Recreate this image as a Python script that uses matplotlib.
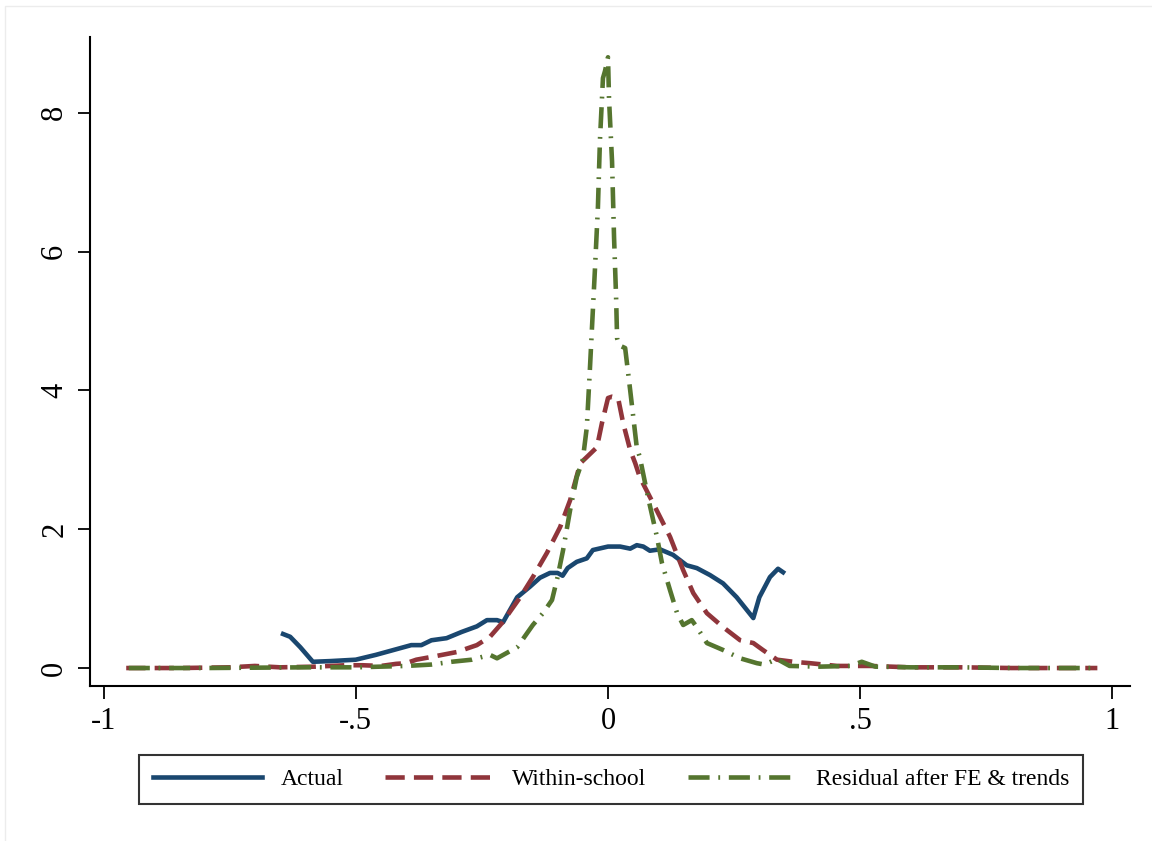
import matplotlib.pyplot as plt
from matplotlib.patches import Rectangle

plt.rcParams["font.family"] = ["Liberation Serif", "DejaVu Serif"]

# kernel density estimates, read as (x, density) pairs
actual_x = [-0.644, -0.63, -0.61, -0.585, -0.55, -0.50, -0.46, -0.43, -0.41, -0.39,
            -0.37, -0.35, -0.32, -0.29, -0.26, -0.24, -0.22, -0.208, -0.18, -0.155,
            -0.135, -0.115, -0.10, -0.09, -0.08, -0.062, -0.042, -0.03, 0.0, 0.024,
            0.044, 0.057, 0.07, 0.083, 0.103, 0.129, 0.156, 0.176, 0.202, 0.228,
            0.255, 0.288, 0.30, 0.321, 0.337, 0.347]
actual_y = [0.49, 0.45, 0.30, 0.09, 0.10, 0.12, 0.19, 0.25, 0.29, 0.33,
            0.33, 0.40, 0.43, 0.52, 0.60, 0.69, 0.69, 0.66, 1.02, 1.17,
            1.30, 1.37, 1.37, 1.33, 1.44, 1.53, 1.58, 1.70, 1.75, 1.75,
            1.72, 1.77, 1.75, 1.69, 1.71, 1.63, 1.48, 1.44, 1.34, 1.22,
            1.02, 0.72, 1.02, 1.31, 1.43, 1.38]

within_x = [-0.955, -0.85, -0.75, -0.70, -0.65, -0.58, -0.52, -0.486, -0.45, -0.42,
            -0.40, -0.38, -0.35, -0.30, -0.26, -0.234, -0.21, -0.174, -0.149, -0.121,
            -0.095, -0.075, -0.055, -0.042, -0.022, -0.012, 0.0, 0.008, 0.02, 0.03,
            0.044, 0.054, 0.063, 0.089, 0.123, 0.149, 0.169, 0.196, 0.228, 0.262,
            0.288, 0.307, 0.335, 0.367, 0.40, 0.454, 0.52, 0.60, 0.70, 0.80,
            0.90, 0.97]
within_y = [0.0, 0.0, 0.01, 0.03, 0.01, 0.02, 0.04, 0.04, 0.03, 0.06,
            0.07, 0.12, 0.16, 0.23, 0.33, 0.45, 0.65, 1.02, 1.31, 1.66,
            2.03, 2.42, 2.95, 3.04, 3.18, 3.53, 3.89, 3.91, 3.89, 3.53,
            3.14, 2.95, 2.75, 2.38, 1.89, 1.41, 1.08, 0.79, 0.59, 0.40,
            0.36, 0.26, 0.12, 0.09, 0.07, 0.03, 0.03, 0.01, 0.01, 0.0,
            0.0, 0.0]

resid_x = [-0.95, -0.80, -0.60, -0.50, -0.45, -0.40, -0.35, -0.31, -0.27, -0.234,
           -0.22, -0.18, -0.149, -0.129, -0.111, -0.10, -0.089, -0.075, -0.062, -0.05,
           -0.042, -0.036, -0.032, -0.026, -0.02, -0.016, -0.01, -0.006, 0.0, 0.002,
           0.008, 0.012, 0.016, 0.018, 0.022, 0.034, 0.044, 0.057, 0.063, 0.079,
           0.097, 0.107, 0.123, 0.137, 0.149, 0.166, 0.176, 0.196, 0.228, 0.262,
           0.295, 0.31, 0.335, 0.36, 0.42, 0.48, 0.503, 0.53, 0.60, 0.70,
           0.80, 0.90, 0.97]
resid_y = [0.0, 0.0, 0.01, 0.01, 0.02, 0.03, 0.05, 0.09, 0.12, 0.19,
           0.14, 0.30, 0.62, 0.79, 0.98, 1.31, 1.70, 2.28, 2.75, 3.0,
           3.47, 4.29, 4.87, 5.73, 6.64, 7.6, 8.5, 8.6, 8.8, 8.2,
           7.3, 6.2, 5.35, 4.75, 4.65, 4.61, 4.0, 3.18, 3.04, 2.47,
           1.89, 1.51, 1.12, 0.79, 0.62, 0.69, 0.59, 0.36, 0.26, 0.14,
           0.07, 0.05, 0.13, 0.03, 0.02, 0.03, 0.09, 0.02, 0.01, 0.01,
           0.0, 0.0, 0.0]

labels = ["Actual", "Within-school", "Residual after FE & trends"]
x_ticks = [-1, -0.5, 0, 0.5, 1]
x_tick_labels = ["-1", "-.5", "0", ".5", "1"]
y_ticks = [0, 2, 4, 6, 8]

navy = "#1a476f"
maroon = "#90353b"
green = "#55752f"

fig = plt.figure(figsize=(11.52, 8.41), dpi=100)
# faint outer frame of the graph region
fig.patches.append(Rectangle((5 / 1152, -0.1), 1.2, 1.1 - 6 / 841, transform=fig.transFigure,
                             fill=False, edgecolor="#ececec", linewidth=1.0))
ax = fig.add_axes([90 / 1152, 155 / 841, 1040 / 1152, 649 / 841])

lw = 3.3
ax.plot(actual_x, actual_y, color=navy, lw=lw, label=labels[0])
ax.plot(within_x, within_y, color=maroon, lw=lw, dashes=(4.2, 2.0), label=labels[1])
ax.plot(resid_x, resid_y, color=green, lw=lw, dashes=(4.6, 1.9, 0.4, 1.9), label=labels[2])

ax.set_xlim(-1.0268, 1.0347)
ax.set_ylim(-0.259, 9.092)
ax.set_xticks(x_ticks)
ax.set_xticklabels(x_tick_labels)
ax.set_yticks(y_ticks)
ax.set_yticklabels([str(v) for v in y_ticks], rotation=90, va="center")

for side in ("top", "right"):
    ax.spines[side].set_visible(False)
for side in ("left", "bottom"):
    ax.spines[side].set_linewidth(1.5)
ax.tick_params(direction="out", length=9, width=1.3, labelsize=22, pad=6)

leg = fig.legend(loc="center", bbox_to_anchor=(611 / 1152, 1 - 779.5 / 841), ncol=3,
                 fontsize=17, handlelength=4.6, handletextpad=0.8, columnspacing=1.75,
                 frameon=True, fancybox=False, borderpad=0.6, borderaxespad=0)
leg.get_frame().set_edgecolor("black")
leg.get_frame().set_linewidth(1.5)

fig.savefig("out.png", dpi=100)
